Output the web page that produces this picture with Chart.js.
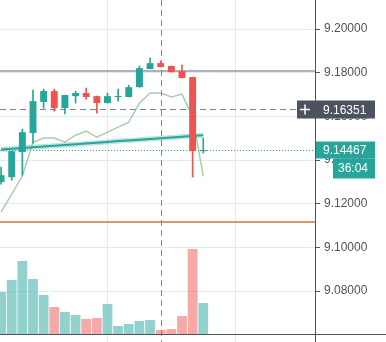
<!DOCTYPE html>
<html>
<head>
<meta charset="utf-8">
<script src="https://cdn.jsdelivr.net/npm/chart.js@4.4.1/dist/chart.umd.min.js"></script>
<style>
  html, body { margin: 0; padding: 0; background: #ffffff; }
  #wrap { width: 386px; height: 342px; position: relative; }
</style>
</head>
<body>
<div id="wrap"><canvas id="chart"></canvas></div>
<script>
// candles (bar index 0..19)
const candleIdx = [0, 1, 2, 3, 4, 5, 6, 7, 8, 9, 10, 11, 12, 13, 14, 15, 16, 17, 18, 19];
const opens  = [9.1299, 9.1322, 9.1437, 9.1524, 9.1666, 9.1716, 9.1638, 9.1693, 9.1707, 9.1693, 9.1661, 9.1689, 9.1689, 9.1734, 9.1817, 9.1844, 9.1831, 9.1808, 9.1780, 9.1441];
const highs  = [9.1368, 9.1441, 9.1542, 9.1721, 9.1725, 9.1725, 9.1698, 9.1716, 9.1730, 9.1693, 9.1707, 9.1725, 9.1743, 9.1831, 9.1867, 9.1853, 9.1831, 9.1835, 9.1780, 9.1501];
const lows   = [9.1290, 9.1308, 9.1331, 9.1478, 9.1638, 9.1624, 9.1611, 9.1661, 9.1679, 9.1615, 9.1661, 9.1670, 9.1689, 9.1734, 9.1817, 9.1826, 9.1803, 9.1776, 9.1322, 9.1432];
const closes = [9.1331, 9.1441, 9.1528, 9.1670, 9.1716, 9.1638, 9.1698, 9.1707, 9.1689, 9.1661, 9.1693, 9.1693, 9.1734, 9.1821, 9.1844, 9.1826, 9.1803, 9.1776, 9.1441, 9.14467];
const volumes = [420, 540, 730, 550, 390, 270, 220, 190, 150, 160, 300, 80, 100, 130, 140, 40, 50, 180, 850, 310];

// moving averages
const maFast = [9.1162, 9.1244, 9.1327, 9.1482, 9.1501, 9.1501, 9.1482, 9.1514, 9.1533, 9.1505, 9.1528, 9.1551, 9.1574, 9.1661, 9.1707, 9.1707, 9.1689, 9.1702, 9.1597, 9.1327];
const maSlow = [9.1449, 9.1452, 9.1455, 9.1459, 9.1462, 9.1466, 9.1469, 9.1473, 9.1476, 9.1480, 9.1483, 9.1487, 9.1490, 9.1493, 9.1497, 9.1500, 9.1504, 9.1507, 9.1511, 9.1514];

// axis ticks and marker levels
const priceTicks = [9.08, 9.10, 9.12, 9.14, 9.16, 9.18, 9.20];
const timeGridIdx = [10, 22];
const levelHigh = 9.1810;
const levelLow = 9.1117;
const lastPrice = 9.14467;
const crossIdx = 15;
const crossPrice = 9.16351;
const countdown = "36:04";

const UP = "#26a69a";
const DOWN = "#ef5350";
const FONT = '12px "Liberation Sans", Arial, sans-serif';

const isUp = candleIdx.map((i) => closes[i] >= opens[i]);
const candleColors = isUp.map((u) => (u ? UP : DOWN));
const volColors = isUp.map((u) => (u ? "rgba(38,166,154,0.5)" : "rgba(239,83,80,0.5)"));

function hLine(ctx, x1, x2, y, color, width, dash) {
  ctx.beginPath();
  ctx.strokeStyle = color;
  ctx.lineWidth = width;
  ctx.setLineDash(dash);
  ctx.moveTo(x1, y);
  ctx.lineTo(x2, y);
  ctx.stroke();
}

function vLine(ctx, x, y1, y2, color, width, dash) {
  ctx.beginPath();
  ctx.strokeStyle = color;
  ctx.lineWidth = width;
  ctx.setLineDash(dash);
  ctx.moveTo(x, y1);
  ctx.lineTo(x, y2);
  ctx.stroke();
}

const overlay = {
  id: "overlay",
  beforeDatasetsDraw(chart) {
    const { ctx, chartArea: a, scales: { y } } = chart;
    ctx.save();
    hLine(ctx, a.left, a.right, Math.round(y.getPixelForValue(levelHigh)), "#9598a1", 1.5, []);
    hLine(ctx, a.left, a.right, Math.round(y.getPixelForValue(levelLow)), "#c97a3c", 1.5, []);
    hLine(ctx, a.left, a.right, Math.round(y.getPixelForValue(lastPrice)) + 0.5, UP, 1, [1, 2]);
    ctx.restore();
  },
  afterDatasetsDraw(chart) {
    const { ctx, chartArea: a, scales: { x, y } } = chart;
    ctx.save();
    // crosshair
    const cx = Math.round(x.getPixelForValue(crossIdx)) + 0.5;
    const cy = Math.round(y.getPixelForValue(crossPrice)) + 0.5;
    vLine(ctx, cx, 0, chart.height, "#758696", 1, [6, 4]);
    hLine(ctx, a.left, a.right, cy, "#758696", 1, [6, 4]);
    ctx.restore();
  },
  afterDraw(chart) {
    const { ctx, chartArea: a, scales: { y } } = chart;
    ctx.save();
    // axis borders
    vLine(ctx, a.right + 0.5, 0, chart.height, "#50535e", 1, []);
    hLine(ctx, 0, chart.width, a.bottom + 0.5, "#50535e", 1, []);

    ctx.font = FONT;
    ctx.textBaseline = "middle";
    ctx.textAlign = "left";

    // crosshair price label
    const cy = Math.round(y.getPixelForValue(crossPrice)) + 0.5;
    ctx.fillStyle = "#4c525e";
    ctx.fillRect(a.right - 18, cy - 9, 78, 18);
    ctx.strokeStyle = "#ffffff";
    ctx.lineWidth = 1.5;
    ctx.setLineDash([]);
    ctx.beginPath();
    ctx.moveTo(a.right - 15, cy);
    ctx.lineTo(a.right - 5, cy);
    ctx.moveTo(a.right - 10, cy - 5);
    ctx.lineTo(a.right - 10, cy + 5);
    ctx.stroke();
    ctx.fillStyle = "#ffffff";
    ctx.fillText(crossPrice.toFixed(5), a.right + 8, cy + 1);

    // last price label + countdown
    const ly = Math.round(y.getPixelForValue(lastPrice)) + 0.5;
    ctx.fillStyle = UP;
    ctx.fillRect(a.right + 1, ly - 9, 59, 17);
    ctx.fillRect(a.right + 18, ly + 8, 42, 20);
    ctx.fillStyle = "#ffffff";
    ctx.fillText(lastPrice.toFixed(5), a.right + 8, ly);
    ctx.textAlign = "center";
    ctx.fillText(countdown, a.right + 38, ly + 18);
    ctx.restore();
  },
};

document.addEventListener("DOMContentLoaded", () => {
  const ctx = document.getElementById("chart").getContext("2d");

  new Chart(ctx, {
    type: "bar",
    data: {
      datasets: [
        {
          // candle bodies
          type: "bar",
          data: candleIdx.map((i) => ({ x: i, y: [opens[i], closes[i]] })),
          backgroundColor: candleColors,
          barPercentage: 0.65,
          categoryPercentage: 1,
          minBarLength: 1,
          grouped: false,
          yAxisID: "y",
          order: 0,
        },
        {
          // wicks
          type: "bar",
          data: candleIdx.map((i) => ({ x: i, y: [lows[i], highs[i]] })),
          backgroundColor: candleColors,
          barThickness: 1,
          grouped: false,
          yAxisID: "y",
          order: 1,
        },
        {
          type: "line",
          data: candleIdx.map((i) => ({ x: i, y: maSlow[i] })),
          borderColor: UP,
          borderWidth: 2,
          pointRadius: 0,
          yAxisID: "y",
          order: 2,
        },
        {
          type: "line",
          data: candleIdx.map((i) => ({ x: i, y: maSlow[i] })),
          borderColor: "rgba(38,166,154,0.3)",
          borderWidth: 5,
          pointRadius: 0,
          yAxisID: "y",
          order: 3,
        },
        {
          type: "line",
          data: candleIdx.map((i) => ({ x: i, y: maFast[i] })),
          borderColor: "rgba(128,176,128,0.65)",
          borderWidth: 1.5,
          pointRadius: 0,
          yAxisID: "y",
          order: 3,
        },
        {
          // volume
          type: "bar",
          data: candleIdx.map((i) => ({ x: i, y: volumes[i] })),
          backgroundColor: volColors,
          barPercentage: 0.92,
          categoryPercentage: 1,
          grouped: false,
          yAxisID: "yVol",
          order: 5,
        },
      ],
    },
    options: {
      responsive: true,
      maintainAspectRatio: false,
      animation: false,
      devicePixelRatio: 1,
      layout: { padding: 0 },
      plugins: {
        legend: { display: false },
        tooltip: { enabled: false },
      },
      scales: {
        x: {
          type: "linear",
          position: "bottom",
          min: -0.1,
          max: 29.5,
          offset: false,
          afterBuildTicks: (s) => { s.ticks = timeGridIdx.map((v) => ({ value: v })); },
          afterFit: (s) => { s.height = 8; },
          ticks: { display: false },
          grid: { offset: false, color: "#e1ecf2", tickColor: "#e1ecf2", tickLength: 8 },
          border: { display: false },
        },
        y: {
          type: "linear",
          position: "right",
          min: 9.0604,
          max: 9.2133,
          afterBuildTicks: (s) => { s.ticks = priceTicks.map((v) => ({ value: v })); },
          afterFit: (s) => { s.width = 71; s.paddingTop = 0; s.paddingBottom = 0; },
          ticks: {
            callback: (v) => Number(v).toFixed(5),
            color: "#50535e",
            font: { family: '"Liberation Sans", Arial, sans-serif', size: 12 },
            padding: 4,
          },
          grid: { color: "#e1ecf2", tickColor: "#50535e", tickLength: 5 },
          border: { display: false },
        },
        yVol: {
          type: "linear",
          display: false,
          min: 0,
          max: 3340,
        },
      },
    },
    plugins: [overlay],
  });
});
</script>
</body>
</html>
